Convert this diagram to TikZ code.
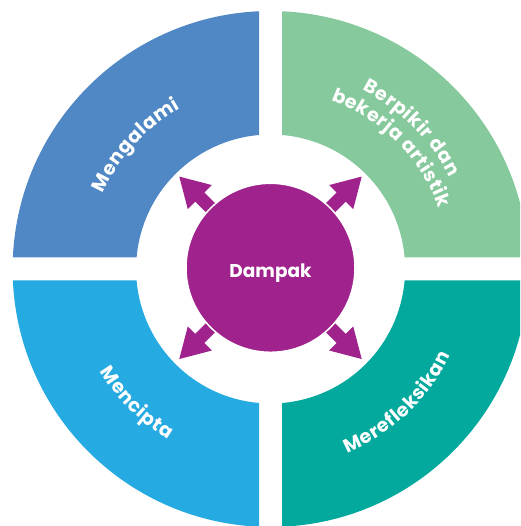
\documentclass[tikz,border=0pt]{standalone}
\usepackage{fontspec}
\setmainfont{Poppins}
\usetikzlibrary{decorations.text,calc}
\definecolor{qblue}{HTML}{5087C5}
\definecolor{qgreen}{HTML}{86C99C}
\definecolor{qlblue}{HTML}{25AAE1}
\definecolor{qteal}{HTML}{03A99D}
\definecolor{qpurp}{HTML}{A0228C}
\newcommand\lblfont{\bfseries\fontsize{19}{19}\selectfont}
\begin{document}
\begin{tikzpicture}[x=1pt,y=1pt,
  arctext/.style={decorate, decoration={text effects along path, text={#1}, text align=center,
     text effects/.cd, text along path, character widths={font=\lblfont, inner xsep=0.3pt},
     characters={text=white, font=\lblfont, inner sep=0pt}}}]
\useasboundingbox (0,0) rectangle (520,526);
\clip (0,0) rectangle (520,526);
\coordinate (C) at (270.6,257);
\def\Ro{258}
\def\Ri{134.5}
\foreach \b/\col in {0/qgreen,90/qblue,180/qlblue,270/qteal}{
  \fill[\col] ($(C)+(\b+2.555:\Ro)$) arc[start angle=\b+2.555, end angle=\b+87.445, radius=\Ro]
    -- ($(C)+(\b+85.095:\Ri)$) arc[start angle=\b+85.095, end angle=\b+4.905, radius=\Ri] -- cycle;
}
% labels
\path[arctext={Mengalami}] ($(C)+(180:184)$) arc[start angle=180, end angle=95, radius=184];
\path[arctext={Berpikir dan}] ($(C)+(90:201)$) arc[start angle=90, end angle=0, radius=201];
\path[arctext={bekerja artistik}] ($(C)+(90:179)$) arc[start angle=90, end angle=0, radius=179];
\path[arctext={Mencipta}] ($(C)+(180:199)$) arc[start angle=180, end angle=270, radius=199];
\path[arctext={Merefleksikan}] ($(C)+(-91.5:199.5)$) arc[start angle=-91.5, end angle=-1.5, radius=199.5];
% centre
\coordinate (P) at (270.5,258.2);
\foreach \a in {45,135,225,315}{
  \begin{scope}[shift={(P)}, rotate=\a]
    \fill[qpurp] (78,-6.5) -- (100,-6.5) -- (100,-17) -- (129,0) -- (100,17) -- (100,6.5) -- (78,6.5) -- cycle;
  \end{scope}
}
\node[circle, fill=qpurp, draw=white, line width=1.5pt, minimum size=169pt, inner sep=0pt] (dampak) at (P) {};
\node[anchor=base, text=white, font=\bfseries\fontsize{18.5}{18.5}\selectfont, inner sep=0pt] (dampaklbl) at ($(dampak.center)+(0,-9.5)$) {Dampak};
\end{tikzpicture}
\end{document}
